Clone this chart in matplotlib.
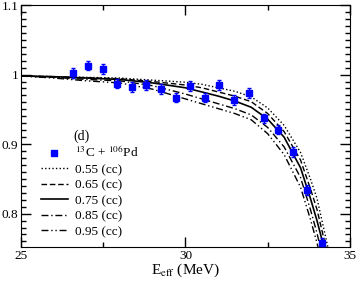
import numpy as np
import matplotlib

matplotlib.use("Agg")
import matplotlib.pyplot as plt
from matplotlib.ticker import MultipleLocator, FuncFormatter
from matplotlib.lines import Line2D

plt.rcParams["font.family"] = ["Liberation Serif", "DejaVu Serif"]
plt.rcParams["mathtext.fontset"] = "stix"

# measured points: 13C + 106Pd
e_exp = [26.59, 27.03, 27.48, 27.93, 28.37, 28.80, 29.26, 29.71, 30.14, 30.59,
         31.03, 31.48, 31.93, 32.38, 32.81, 33.26, 33.69, 34.15]
r_exp = [1.002, 1.013, 1.008, 0.987, 0.982, 0.985, 0.979, 0.967, 0.984, 0.967,
         0.985, 0.963, 0.973, 0.937, 0.921, 0.889, 0.834, 0.758]
r_err = [0.007] * len(e_exp)

# calculated curves
e_calc = [25, 26, 27, 28, 29, 30, 30.5, 31, 31.5, 32, 32.5, 33, 33.5, 33.8, 34.0]
curves = {
    "0.55 (cc)": ([0.998, 0.997, 0.996, 0.995, 0.992, 0.989, 0.986, 0.981, 0.976,
                   0.968, 0.952, 0.927, 0.888, 0.850, 0.822], (34.34, 0.75)),
    "0.65 (cc)": ([0.998, 0.997, 0.9955, 0.994, 0.990, 0.985, 0.981, 0.975, 0.969,
                   0.961, 0.944, 0.918, 0.877, 0.836, 0.806], (34.28, 0.75)),
    "0.75 (cc)": ([0.998, 0.997, 0.995, 0.993, 0.988, 0.981, 0.975, 0.969, 0.962,
                   0.953, 0.936, 0.910, 0.866, 0.822, 0.790], (34.22, 0.75)),
    "0.85 (cc)": ([0.998, 0.996, 0.993, 0.991, 0.984, 0.972, 0.965, 0.958, 0.951,
                   0.942, 0.924, 0.896, 0.852, 0.806, 0.772], (34.11, 0.75)),
    "0.95 (cc)": ([0.998, 0.995, 0.991, 0.988, 0.979, 0.965, 0.958, 0.951, 0.944,
                   0.935, 0.915, 0.885, 0.838, 0.792, 0.758], (34.04, 0.75)),
}
styles = {
    "0.55 (cc)": dict(ls=(0, (1, 1.6)), lw=1.0),
    "0.65 (cc)": dict(ls=(0, (4, 2)), lw=1.0),
    "0.75 (cc)": dict(ls="-", lw=1.2),
    "0.85 (cc)": dict(ls=(0, (5, 2, 1, 2)), lw=1.0),
    "0.95 (cc)": dict(ls=(0, (5, 2, 1, 2, 1, 2)), lw=1.0),
}

fig = plt.figure(figsize=(3.57, 2.81), dpi=100)
ax = fig.add_axes([0.059, 0.121, 0.921, 0.861])

handles = []
for lab, (vals, end) in curves.items():
    xs = e_calc + [end[0]]
    ys = vals + [end[1]]
    ax.plot(xs, ys, color="black", **styles[lab])
    handles.append(Line2D([], [], color="black", **styles[lab]))

ax.errorbar(e_exp, r_exp, yerr=r_err, fmt="s", color="blue", ms=5,
            elinewidth=1, capsize=1.5, zorder=5)
h_exp = Line2D([], [], marker="s", color="blue", ls="none", ms=5)

ax.set_xlim(25, 35)
ax.set_ylim(0.752, 1.1)
ax.xaxis.set_major_locator(MultipleLocator(5))
ax.xaxis.set_minor_locator(MultipleLocator(2.5))
ax.yaxis.set_major_locator(MultipleLocator(0.1))
ax.yaxis.set_minor_locator(MultipleLocator(0.01))
ax.yaxis.set_major_formatter(FuncFormatter(lambda v, p: "%g" % round(v, 2)))
ax.tick_params(which="both", direction="in", top=True, right=True, labelsize=9.5)
ax.tick_params(which="major", length=7, width=1)
ax.tick_params(which="minor", length=3.5, width=1)
ax.tick_params(axis="y", pad=2)
ax.tick_params(axis="x", pad=2)

ax.set_xlabel(r"E$_{\rm eff}$ (MeV)", fontsize=11, labelpad=0)

ax.text(26.6, 0.906, "(d)", fontsize=10)
ax.legend([h_exp] + handles,
          [r"$^{13}$C + $^{106}$Pd"] + list(curves.keys()),
          loc="upper left", bbox_to_anchor=(0.045, 0.445), frameon=False,
          fontsize=9.5, handlelength=2.0, handletextpad=0.6,
          labelspacing=0.25, borderaxespad=0)

fig.savefig("out.png", dpi=100)
